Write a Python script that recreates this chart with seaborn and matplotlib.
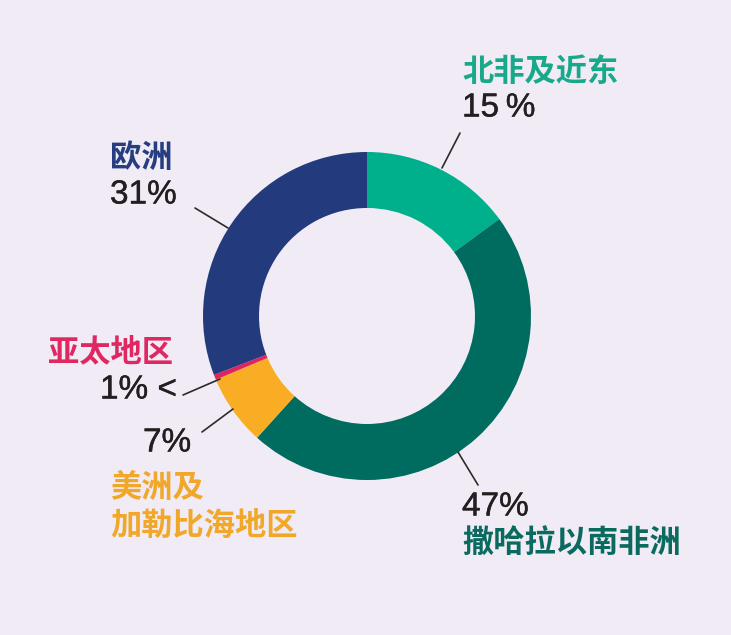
import matplotlib
matplotlib.use("Agg")
import matplotlib.pyplot as plt
import matplotlib.patheffects as pe
import seaborn as sns

# Data
regions = ['北非及近东', '撒哈拉以南非洲', '美洲及\n加勒比海地区', '亚太地区', '欧洲']
shares = [15, 47, 7, 0.5, 31]
share_labels = ['15\u2009%', '47%', '7%', '1% <', '31%']
colors = ['#00af8c', '#006b5f', '#f8ad24', '#e0245e', '#233a7d']
label_colors = ['#18a98a', '#0b6a5f', '#f1a82a', '#df2862', '#263d80']

BG = '#f0ebf5'
NUM_COLOR = '#231f20'

sns.set_theme(style='white')
plt.rcParams['font.family'] = ['Noto Sans CJK SC', 'DejaVu Sans']

fig = plt.figure(figsize=(7.31, 6.35), dpi=100, facecolor=BG)
ax = fig.add_axes([0, 0, 1, 1])
ax.set_facecolor(BG)

# donut (y axis is flipped below, so counterclock=True reads clockwise on screen)
ax.pie(shares, colors=sns.color_palette(colors), startangle=-90, counterclock=True,
       radius=164, center=(367, 316),
       wedgeprops=dict(width=56, linewidth=0))
ax.set_xlim(0, 731)
ax.set_ylim(635, 0)
ax.set_aspect('equal')
ax.axis('off')

# label placement: (name xy, number xy, leader line)
layout = [
    ((462, 72), (462, 108), [(442, 168), (460, 133)]),
    ((462, 543), (462, 507), [(458, 452), (478, 485)]),
    ((110, 507), (143, 443), [(233, 409), (202, 432)]),
    ((48, 352), (100, 390), [(220, 379), (183, 395)]),
    ((110, 158), (110, 195), [(228, 228), (195, 208)]),
]

cjk = dict(family=['Noto Sans CJK SC', 'DejaVu Sans'], fontweight='bold', fontsize=22.5)
num = dict(family=['Liberation Sans', 'DejaVu Sans'], fontsize=24, color=NUM_COLOR,
           path_effects=[pe.withStroke(linewidth=0.3, foreground=NUM_COLOR)])

for name, pct, lc, (nxy, pxy, line) in zip(regions, share_labels, label_colors, layout):
    ax.text(nxy[0], nxy[1], name, color=lc, ha='left', va='center',
            linespacing=1.25, **cjk)
    ax.text(pxy[0], pxy[1], pct, ha='left', va='center', **num)
    ax.plot([line[0][0], line[1][0]], [line[0][1], line[1][1]],
            color='#2b2b2b', lw=1.2)

fig.savefig('out.png', dpi=100, facecolor=BG)
plt.close(fig)
